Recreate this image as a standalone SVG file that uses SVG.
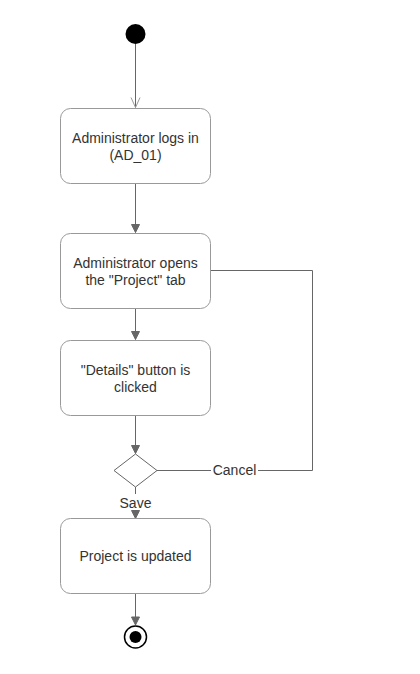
<svg xmlns="http://www.w3.org/2000/svg" width="420" height="674" viewBox="0 0 420 674">
<style>
.node rect{fill:#fff;stroke:#999;stroke-width:1}
.t{font-family:"Liberation Sans",Arial,sans-serif;font-size:14px;fill:#333;text-anchor:middle}
.c{fill:none;stroke:#666;stroke-width:1}
</style>
<defs>
<marker id="ah" markerWidth="10" markerHeight="10" refX="9" refY="5" orient="auto" markerUnits="userSpaceOnUse">
<path d="M1,1 L9,5 L1,9 Z" fill="#666" stroke="#666"/>
</marker>
<marker id="open" markerWidth="12" markerHeight="12" refX="11" refY="6" orient="auto" markerUnits="userSpaceOnUse">
<path d="M1,1.5 L11,6 L1,10.5" fill="none" stroke="#999" stroke-width="1"/>
</marker>
</defs>
<rect width="420" height="674" fill="#fff"/>
<g id="connectors">
<line class="c" x1="135.5" y1="44" x2="135.5" y2="107.5" stroke="#999" marker-end="url(#open)"/>
<line class="c" x1="135.5" y1="183.5" x2="135.5" y2="232.5" marker-end="url(#ah)"/>
<line class="c" x1="135.5" y1="308.5" x2="135.5" y2="339.5" marker-end="url(#ah)"/>
<line class="c" x1="135.5" y1="415.5" x2="135.5" y2="453.5" marker-end="url(#ah)"/>
<line class="c" x1="135.5" y1="487" x2="135.5" y2="494"/>
<line class="c" x1="135.5" y1="512" x2="135.5" y2="518.5" marker-end="url(#ah)"/>
<polyline class="c" points="157,470.5 211,470.5"/>
<polyline class="c" points="258,470.5 312.5,470.5 312.5,270.5 211,270.5"/>
<line class="c" x1="135.5" y1="593.5" x2="135.5" y2="625" marker-end="url(#ah)"/>
<text class="t" x="234.5" y="475">Cancel</text>
<text class="t" x="135.5" y="508">Save</text>
</g>
<g id="start"><circle cx="135.5" cy="34" r="10" fill="#000"/></g>
<g id="n1" class="node"><rect x="60.5" y="108.5" width="150" height="75" rx="10"/>
<text class="t" x="135.5" y="143">Administrator logs in</text><text class="t" x="135.5" y="160">(AD_01)</text></g>
<g id="n2" class="node"><rect x="60.5" y="233.5" width="150" height="75" rx="10"/>
<text class="t" x="135.5" y="268">Administrator opens</text><text class="t" x="135.5" y="285">the "Project" tab</text></g>
<g id="n3" class="node"><rect x="60.5" y="340.5" width="150" height="75" rx="10"/>
<text class="t" x="135.5" y="375">"Details" button is</text><text class="t" x="135.5" y="392">clicked</text></g>
<g id="decision"><polygon points="135.5,454 157,470.5 135.5,487 114,470.5" fill="#fff" stroke="#666"/></g>
<g id="n4" class="node"><rect x="60.5" y="518.5" width="150" height="75" rx="10"/>
<text class="t" x="135.5" y="561">Project is updated</text></g>
<g id="end"><circle cx="135.5" cy="637" r="11" fill="#fff" stroke="#000" stroke-width="1.5"/><circle cx="135.5" cy="637" r="6" fill="#000"/></g>
</svg>
